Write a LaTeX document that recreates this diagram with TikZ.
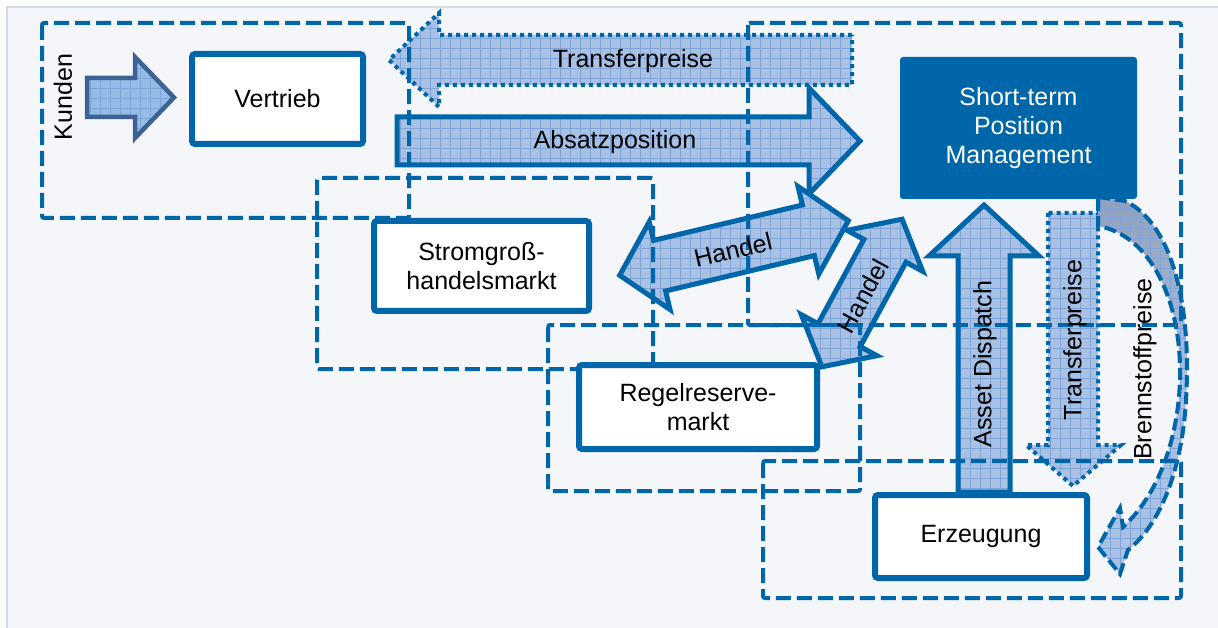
\documentclass[tikz,border=0pt]{standalone}
\usepackage{fontspec}
\setmainfont{Liberation Sans}
\usetikzlibrary{patterns.meta}

\definecolor{mainblue}{HTML}{0066AA}
\definecolor{arrowfill}{HTML}{A9C1E3}
\definecolor{gridblue}{HTML}{7FA4D8}
\definecolor{kundenfill}{HTML}{93BDE4}
\definecolor{kundenline}{HTML}{3D6394}
\definecolor{brenntop}{HTML}{939FB8}
\definecolor{panel}{HTML}{F4F6FA}
\definecolor{panelline}{HTML}{D3DBE7}

\tikzset{
    zone/.style={draw=mainblue, line width=4pt, dash pattern=on 15pt off 6pt, rounded corners=2pt},
    unitbox/.style={draw=mainblue, line width=6pt, fill=white, rounded corners=3pt, inner sep=0pt,
        font=\fontsize{25}{29}\selectfont, align=center},
    gridfill/.style={preaction={fill=#1},
        preaction={pattern={Lines[angle=0,distance=10pt,line width=0.8pt]}, pattern color=gridblue},
        preaction={pattern={Lines[angle=90,distance=10pt,line width=0.8pt]}, pattern color=gridblue}},
    solidarrow/.style={gridfill=arrowfill, draw=mainblue, line width=5pt},
    dotarrow/.style={gridfill=arrowfill, draw=mainblue, line width=4pt, dash pattern=on 4pt off 4pt},
    lbl/.style={font=\fontsize{25}{29}\selectfont, align=center, inner sep=0pt},
}

\begin{document}
\begin{tikzpicture}[x=1pt, y=-1pt]
    \useasboundingbox (0,0) rectangle (1218,628);
    \fill[white] (0,0) rectangle (1218,628);
    \fill[panel] (7,7) rectangle (1230,640);
    \draw[panelline, line width=2pt] (7,640) -- (7,7) -- (1230,7);

    % block arrows
    \draw[gridfill=kundenfill, draw=kundenline, line width=4.5pt]
        (87,78) -- ++(48,0) -- ++(0,-21) -- ++(39,40.5) -- ++(-39,40.5) -- ++(0,-21) -- ++(-48,0) -- cycle;
    \draw[dotarrow] (852,35) -- ++(-413,0) -- ++(0,-22) -- ++(-50,47) -- ++(50,47) -- ++(0,-22) -- ++(413,0) -- cycle;
    \draw[solidarrow] (397,117) -- ++(412,0) -- ++(0,-29) -- ++(51,53) -- ++(-51,53) -- ++(0,-29) -- ++(-412,0) -- cycle;
    \draw[solidarrow] (619.7,275.3) -- (649.2,221.9) -- (653.6,240.4) -- (802.4,205.0) -- (798.0,186.5)
        -- (848.3,220.7) -- (818.8,274.1) -- (814.4,255.6) -- (665.6,291.0) -- (670.0,309.5) -- cycle;
    \draw[solidarrow] (821.9,366.8) -- (801.3,314.7) -- (818.0,323.8) -- (863.8,239.4) -- (847.1,230.3)
        -- (902.1,219.2) -- (922.7,271.3) -- (906.0,262.2) -- (860.2,346.6) -- (876.9,355.7) -- cycle;
    \draw[solidarrow] (958,492) -- ++(0,-236) -- ++(-29,0) -- ++(55,-51) -- ++(55,51) -- ++(-29,0) -- ++(0,236) -- cycle;
    \draw[dotarrow] (1048,213) -- ++(0,232) -- ++(-22,0) -- ++(47,41) -- ++(48,-41) -- ++(-23,0) -- ++(0,-232) -- cycle;
    \draw[preaction={top color=brenntop, bottom color=arrowfill, middle color=arrowfill},
          preaction={pattern={Lines[angle=0,distance=10pt,line width=0.8pt]}, pattern color=gridblue},
          preaction={pattern={Lines[angle=90,distance=10pt,line width=0.8pt]}, pattern color=gridblue},
          draw=mainblue, line width=4pt, dash pattern=on 12pt off 5pt]
        (1098,197) -- (1125,201) .. controls (1170,222) and (1192,300) .. (1186,400)
        .. controls (1182,470) and (1160,525) .. (1128,550) -- (1120,574) -- (1098,547)
        -- (1120,508) -- (1123,527) .. controls (1158,495) and (1178,440) .. (1180,380)
        .. controls (1182,300) and (1150,235) .. (1098,226) -- cycle;

    % dashed zones
    \draw[zone] (42,23) rectangle (409,218);
    \draw[zone] (748,23) rectangle (1181,325);
    \draw[zone] (317,178) rectangle (653,369);
    \draw[zone] (548,325) rectangle (860,491);
    \draw[zone] (763,461) rectangle (1181,598);

    % units
    \node[unitbox, minimum width=171pt, minimum height=90pt] (vertrieb) at (277.5,99) {Vertrieb};
    \node[unitbox, minimum width=215pt, minimum height=90pt] (strom) at (481.5,266) {Stromgroß-\\handelsmarkt};
    \node[unitbox, minimum width=238pt, minimum height=84pt] (regel) at (698,407) {Regelreserve-\\markt};
    \node[unitbox, minimum width=212pt, minimum height=83pt] (erzeugung) at (981,536.5) {Erzeugung};
    \node[lbl, fill=mainblue, text=white, rounded corners=3pt, minimum width=237pt, minimum height=142pt]
        (stpm) at (1018.5,128) {Short-term\\Position\\Management};

    % arrow labels
    \node[lbl, rotate=90] (kunden) at (63,97) {Kunden};
    \node[lbl] (transfertop) at (633,61) {Transferpreise};
    \node[lbl] (absatz) at (615,142) {Absatzposition};
    \node[lbl, rotate=13.4] (handelstrom) at (733,250) {Handel};
    \node[lbl, rotate=61.5] (handelregel) at (863,296) {Handel};
    \node[lbl, rotate=90] (dispatch) at (985,364) {Asset Dispatch};
    \node[lbl, rotate=90] (transferside) at (1075,340) {Transferpreise};
    \node[lbl, rotate=90] (brennstoff) at (1145,369) {Brennstoffpreise};

\end{tikzpicture}
\end{document}
